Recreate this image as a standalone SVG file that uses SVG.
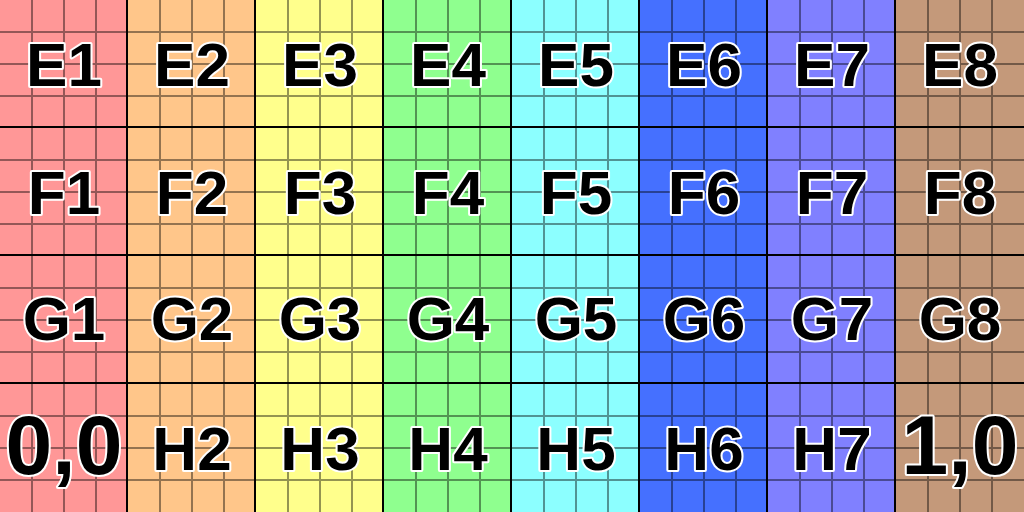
<svg xmlns="http://www.w3.org/2000/svg" width="1024" height="512" viewBox="0 0 1024 512">
<style>
.l{font-family:"Liberation Sans",Arial,sans-serif;font-weight:bold;font-size:62px;text-anchor:middle;fill:#000;stroke:#fff;stroke-width:4px;stroke-linejoin:round;paint-order:stroke}
.big{font-size:84px}
.sub{fill:none;stroke:#000;stroke-opacity:0.42;stroke-width:2}
.maj{fill:none;stroke:#000;stroke-width:2}
</style>
<g id="columns">
<rect x="0" y="0" width="128" height="512" fill="#FF9797"/>
<rect x="128" y="0" width="128" height="512" fill="#FFC68A"/>
<rect x="256" y="0" width="128" height="512" fill="#FFFF8C"/>
<rect x="384" y="0" width="128" height="512" fill="#8FFF8F"/>
<rect x="512" y="0" width="128" height="512" fill="#8CFFFF"/>
<rect x="640" y="0" width="128" height="512" fill="#4570FF"/>
<rect x="768" y="0" width="128" height="512" fill="#8080FF"/>
<rect x="896" y="0" width="128" height="512" fill="#C4997A"/>
</g>
<g id="grid">
<path class="sub" d="M32 0V512M64 0V512M96 0V512M160 0V512M192 0V512M224 0V512M288 0V512M320 0V512M352 0V512M416 0V512M448 0V512M480 0V512M544 0V512M576 0V512M608 0V512M672 0V512M704 0V512M736 0V512M800 0V512M832 0V512M864 0V512M928 0V512M960 0V512M992 0V512M0 32H1024M0 64H1024M0 96H1024M0 160H1024M0 192H1024M0 224H1024M0 288H1024M0 320H1024M0 352H1024M0 416H1024M0 448H1024M0 480H1024"/>
<path class="maj" d="M127 0V512M255 0V512M383 0V512M511 0V512M639 0V512M767 0V512M895 0V512M0 127H1024M0 255H1024M0 383H1024"/>
</g>
<g id="E1"><text class="l" x="64" y="86">E1</text></g>
<g id="E2"><text class="l" x="192" y="86">E2</text></g>
<g id="E3"><text class="l" x="320" y="86">E3</text></g>
<g id="E4"><text class="l" x="448" y="86">E4</text></g>
<g id="E5"><text class="l" x="576" y="86">E5</text></g>
<g id="E6"><text class="l" x="704" y="86">E6</text></g>
<g id="E7"><text class="l" x="832" y="86">E7</text></g>
<g id="E8"><text class="l" x="960" y="86">E8</text></g>
<g id="F1"><text class="l" x="64" y="214">F1</text></g>
<g id="F2"><text class="l" x="192" y="214">F2</text></g>
<g id="F3"><text class="l" x="320" y="214">F3</text></g>
<g id="F4"><text class="l" x="448" y="214">F4</text></g>
<g id="F5"><text class="l" x="576" y="214">F5</text></g>
<g id="F6"><text class="l" x="704" y="214">F6</text></g>
<g id="F7"><text class="l" x="832" y="214">F7</text></g>
<g id="F8"><text class="l" x="960" y="214">F8</text></g>
<g id="G1"><text class="l" x="64" y="340">G1</text></g>
<g id="G2"><text class="l" x="192" y="340">G2</text></g>
<g id="G3"><text class="l" x="320" y="340">G3</text></g>
<g id="G4"><text class="l" x="448" y="340">G4</text></g>
<g id="G5"><text class="l" x="576" y="340">G5</text></g>
<g id="G6"><text class="l" x="704" y="340">G6</text></g>
<g id="G7"><text class="l" x="832" y="340">G7</text></g>
<g id="G8"><text class="l" x="960" y="340">G8</text></g>
<g id="H1"><text class="l big" x="64" y="474">0,0</text></g>
<g id="H2"><text class="l" x="192" y="470">H2</text></g>
<g id="H3"><text class="l" x="320" y="470">H3</text></g>
<g id="H4"><text class="l" x="448" y="470">H4</text></g>
<g id="H5"><text class="l" x="576" y="470">H5</text></g>
<g id="H6"><text class="l" x="704" y="470">H6</text></g>
<g id="H7"><text class="l" x="832" y="470">H7</text></g>
<g id="H8"><text class="l big" x="960" y="474">1,0</text></g>
</svg>
